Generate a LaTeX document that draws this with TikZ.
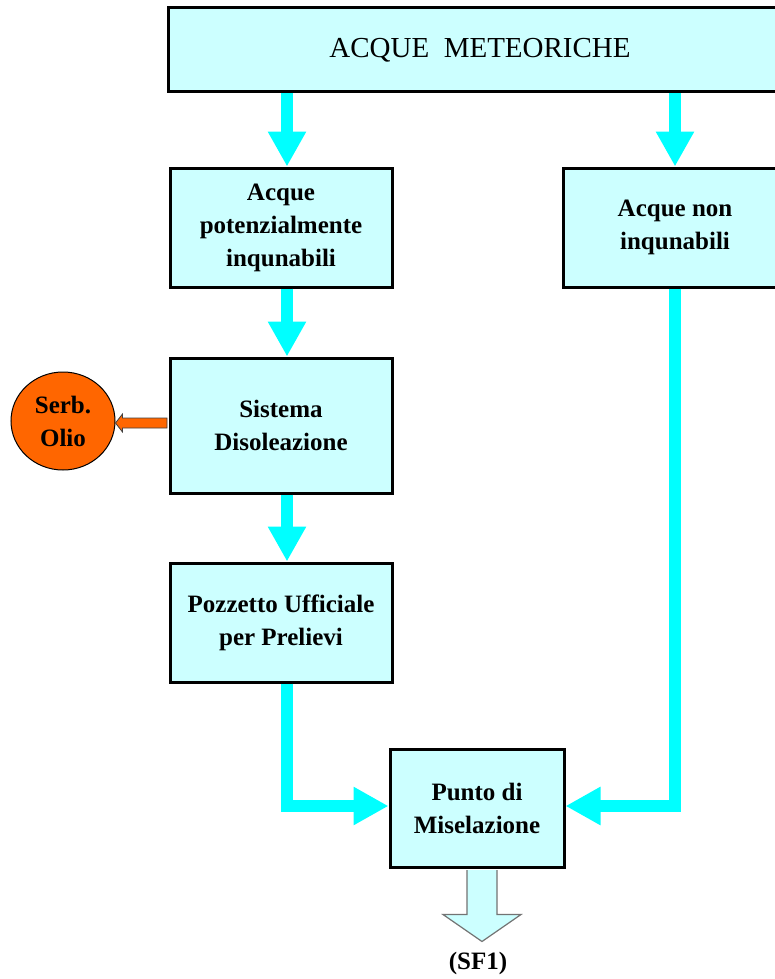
\documentclass[tikz,border=0pt]{standalone}
\usepackage{fontspec}
\setmainfont{Liberation Serif}
\usetikzlibrary{arrows.meta,shapes.geometric,calc}
\definecolor{boxfill}{HTML}{CCFFFF}
\definecolor{flowcyan}{HTML}{00FFFF}
\definecolor{oilorange}{HTML}{FF6600}
\tikzset{
  box/.style={draw=black, line width=3pt, fill=boxfill, rectangle, align=center,
    font=\fontsize{25}{33}\selectfont\bfseries, inner sep=0pt},
  flow/.style={draw=flowcyan, line width=12pt, line join=miter,
    -{Triangle[length=35pt,width=36pt]}},
  oarrow/.style={fill=oilorange, draw=black!75, line width=0.8pt},
  outarrow/.style={fill=boxfill, draw=black!55, line width=1.2pt},
  tank/.style={ellipse, draw=black, line width=1pt, fill=oilorange, align=center,
    font=\fontsize{25}{33}\selectfont\bfseries, inner sep=0pt,
    minimum width=104pt, minimum height=98pt},
  lbl/.style={font=\fontsize{25}{30}\selectfont\bfseries, inner sep=0pt}
}
\begin{document}
\begin{tikzpicture}[x=1pt,y=-1pt]
\fill[white] (0,0) rectangle (775,979);
\useasboundingbox (0,0) rectangle (775,979);

\node[box, font=\fontsize{29}{33}\selectfont, minimum width=624pt, minimum height=84pt] (top) at (480,50) {ACQUE\ \ METEORICHE};
\node[box, minimum width=222pt, minimum height=119pt] (pot) at (281,227.5) {Acque\\potenzialmente\\inqunabili};
\node[box, minimum width=224pt, minimum height=119pt] (non) at (675,227.5) {Acque non\\inqunabili};
\node[box, minimum width=222pt, minimum height=135pt] (sis) at (281,425.5) {Sistema\\Disoleazione};
\node[box, minimum width=222pt, minimum height=119pt] (poz) at (281,622.5) {Pozzetto Ufficiale\\per Prelievi};
\node[box, minimum width=174pt, minimum height=118pt] (pun) at (477,808) {Punto di\\Miselazione};
\node[tank] (serb) at (63,421) {Serb.\\Olio};
\node[lbl] (sf) at (478,963) {(SF1)};

\coordinate (lx) at (287,0);
\coordinate (rx) at (675,0);
\coordinate (jy) at (0,806);
\coordinate (oy) at (0,423);
\coordinate (ox) at (482,0);

\draw[flow] (top.south -| lx) -- (pot.north -| lx);
\draw[flow] (top.south -| rx) -- (non.north -| rx);
\draw[flow] (pot.south -| lx) -- (sis.north -| lx);
\draw[flow] (sis.south -| lx) -- (poz.north -| lx);
\draw[flow] (poz.south -| lx) -- (lx |- jy) -- (pun.west |- jy);
\draw[flow] (non.south -| rx) -- (rx |- jy) -- (pun.east |- jy);

\path (sis.west |- oy) coordinate (o1);
\path (serb.east |- oy) coordinate (o2);
\filldraw[oarrow] ($(o1)+(-1.5,-5)$) -- ($(o2)+(7,-5)$) -- ($(o2)+(7,-9)$) -- (o2)
  -- ($(o2)+(7,9)$) -- ($(o2)+(7,5)$) -- ($(o1)+(-1.5,5)$) -- cycle;

\path (pun.south -| ox) coordinate (b);
\filldraw[outarrow] ($(b)+(-15,1.5)$) -- ($(b)+(-15,46)$) -- ($(b)+(-39,46)$) -- ($(b)+(0,73)$)
  -- ($(b)+(39,46)$) -- ($(b)+(15,46)$) -- ($(b)+(15,1.5)$);
\end{tikzpicture}
\end{document}
